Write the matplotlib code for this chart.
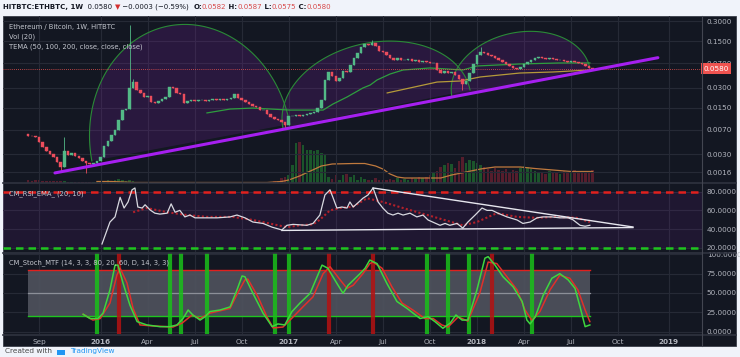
import numpy as np
import pandas as pd
import matplotlib
matplotlib.use("Agg")
import matplotlib.pyplot as plt
import matplotlib.dates as mdates
from matplotlib.lines import Line2D
from matplotlib.patches import Rectangle, Polygon
from matplotlib.ticker import FixedLocator, NullLocator

W, H = 740, 357

# ---------------- data (weekly bars, bar 0 = week of 2015-08-17) ----------------
first_week = "2015-08-17"
first_open = 0.0061
close = [
    0.0057, 0.0056, 0.0054, 0.0046, 0.0038, 0.0033, 0.0030, 0.0027, 0.0023, 0.0019,
    0.0033, 0.0029, 0.0031, 0.0028, 0.0026, 0.0024, 0.0022, 0.0021, 0.0022, 0.0024,
    0.0027, 0.0040, 0.0047, 0.0058, 0.0069, 0.0098, 0.0138, 0.0143, 0.0297, 0.0365,
    0.0277, 0.0250, 0.0217, 0.0225, 0.0183, 0.0177, 0.0189, 0.0203, 0.0217, 0.0307,
    0.0297, 0.0250, 0.0241, 0.0177, 0.0189, 0.0196, 0.0189, 0.0196, 0.0196, 0.0189,
    0.0196, 0.0203, 0.0196, 0.0203, 0.0196, 0.0203, 0.0210, 0.0241, 0.0210, 0.0196,
    0.0183, 0.0170, 0.0159, 0.0154, 0.0138, 0.0138, 0.0121, 0.0109, 0.0101, 0.0098,
    0.0091, 0.0082, 0.0112, 0.0112, 0.0116, 0.0112, 0.0116, 0.0121, 0.0125, 0.0129,
    0.0148, 0.0196, 0.0392, 0.0517, 0.0450, 0.0378, 0.0420, 0.0535, 0.0517, 0.0659,
    0.0841, 0.0999, 0.1231, 0.1365, 0.1319, 0.1413, 0.1274, 0.1071, 0.1035, 0.0933,
    0.0841, 0.0784, 0.0841, 0.0784, 0.0784, 0.0812, 0.0758, 0.0784, 0.0732, 0.0758,
    0.0732, 0.0707, 0.0707, 0.0554, 0.0499, 0.0535, 0.0499, 0.0517, 0.0466, 0.0406,
    0.0341, 0.0378, 0.0499, 0.0683, 0.0933, 0.1035, 0.0999, 0.0933, 0.0901, 0.0841,
    0.0784, 0.0732, 0.0683, 0.0637, 0.0594, 0.0574, 0.0615, 0.0683, 0.0732, 0.0784,
    0.0841, 0.0870, 0.0841, 0.0812, 0.0841, 0.0812, 0.0784, 0.0784, 0.0758, 0.0732,
    0.0758, 0.0732, 0.0707, 0.0683, 0.0637, 0.0594, 0.0580]
wick_high = {10: 0.0054, 28: 0.26, 29: 0.040, 95: 0.156, 125: 0.123}
wick_low = {9: 0.0016, 16: 0.00156, 71: 0.0075, 120: 0.0277}

# volume (relative units) and its 20-week average
volume = [
    3, 2, 3, 3, 2, 2, 1.5, 1.5, 2, 1.5,
    1.5, 1, 1, 1, 1, 1, 1, 1, 1, 1,
    1.5, 2, 2.5, 2, 3, 3.5, 3, 2, 2.5, 2,
    1, 0.8, 0.8, 0.7, 0.8, 0.7, 0.6, 0.7, 0.8, 1,
    0.8, 0.6, 0.6, 0.5, 0.5, 0.6, 0.5, 0.6, 0.5, 0.5,
    0.6, 0.5, 0.5, 0.6, 0.5, 0.6, 0.7, 0.8, 0.6, 0.7,
    0.8, 0.8, 0.9, 0.8, 1, 0.9,
    1, 1, 1.5, 2, 5, 6, 8, 18,
    40, 41, 38, 33, 33, 32, 33, 30, 28,
    6, 4, 8, 3, 8, 9, 6, 8, 3, 6, 4, 3, 3, 5, 3,
    3, 3, 4, 3, 5, 3, 4, 3, 5, 4, 6, 5, 6,
    8, 10, 12, 16, 18, 20, 19, 15, 22, 26, 20, 23, 22, 20, 18, 16, 14,
    12, 15, 13, 12, 14, 11, 13, 12, 15, 17, 16, 14, 12, 10, 11, 9, 12, 10, 11,
    9, 12, 10, 11, 13, 12, 10, 11, 12, 13]
vol_ma_bar = [19, 23, 29, 66, 70, 72, 75, 78, 81, 84, 90, 93, 96, 98, 100, 102, 104,
              114, 117, 121, 125, 129, 136, 140, 145, 150, 156]
vol_ma_val = [1.5, 1.5, 0.5, 0.5, 1.5, 3, 7, 12, 17, 19, 19.5, 19.5, 17, 14, 9, 6, 5,
              5, 8, 11, 14, 16, 16, 14.5, 13, 11.5, 11.5]
vol_top = 167

# TEMA lines
tema_green_bar = [49.4, 55.8, 62.1, 72.3, 81.5, 84.2, 88.1, 92.5, 94.5, 96.4, 100.0,
                  103.6, 111.0, 115.7, 120.1, 124.0, 135.9, 146.9, 155.2]
tema_green_val = [0.0125, 0.0143, 0.0148, 0.0138, 0.0138, 0.0170, 0.0217, 0.0297,
                  0.0329, 0.0392, 0.0482, 0.0554, 0.0594, 0.0574, 0.0554, 0.0637,
                  0.0683, 0.0707, 0.0707]
tema_gold_bar = [99.2, 113.0, 119.3, 124.9, 135.9, 145.0, 155.2]
tema_gold_val = [0.0250, 0.0365, 0.0378, 0.0435, 0.0499, 0.0517, 0.0554]

# drawings: arcs (start, apex, end) and trend line
arc_bars = [(17.6, 44.7, 72.3), (70.4, 96.4, 122.1), (117.1, 136.5, 155.2)]
arc_prices = [(0.00236, 0.293, 0.0085), (0.0074, 0.1515, 0.0277), (0.0217, 0.2143, 0.0594)]
trend_bar = [7.4, 174.0]
trend_price = [0.00156, 0.0849]
last_price = 0.0580
price_ticks = [0.3, 0.15, 0.07, 0.03, 0.015, 0.007, 0.003, 0.0016]

# RSI + EMA
rsi_bar = [20.4, 22.6, 24.0, 25.4, 26.5, 27.6, 28.7, 29.5, 30.3, 31.5, 32.3, 33.7, 35.0,
           36.4, 38.4, 39.5, 40.6, 41.9, 43.3, 44.7, 46.1, 48.3, 52.2, 55.8, 57.7, 59.9,
           62.1, 64.9, 67.4, 70.1, 71.5, 73.2, 77.0, 78.7, 80.6, 82.0, 83.4, 84.2, 85.3,
           86.7, 88.1, 88.9, 89.8, 91.1, 92.5, 93.9, 95.3, 96.7, 98.0, 99.4, 100.8, 102.2,
           103.6, 105.5, 107.4, 109.1, 110.5, 112.4, 113.8, 115.2, 116.5, 118.5, 120.1,
           121.5, 123.5, 125.4, 126.8, 128.2, 129.8, 132.3, 135.1, 136.7, 138.7, 140.6,
           142.3, 144.7, 146.9, 149.2, 150.5, 152.5, 153.9, 155.2]
rsi_val = [24, 47.5, 53, 74, 62.5, 69, 82, 84, 63.6, 62.5, 66, 60.4, 57, 56, 57, 67, 58,
           60, 53, 55, 52, 52, 52, 53, 55, 52, 47.5, 46, 42, 39, 44, 45, 44, 46, 55, 76.5,
           82, 74, 62.5, 63.6, 62.5, 69, 63.6, 68, 73, 76.5, 84, 69, 62.5, 57, 55, 57, 55,
           57, 53, 55, 49.7, 46.4, 44, 46, 44, 46, 41, 47.5, 55, 62.5, 60, 60, 57, 53,
           49.7, 46, 47.5, 52, 53, 53, 52, 52, 50, 44, 43, 44]
ema_bar = [29.0, 32.8, 38.4, 43.9, 49.4, 56.6, 62.1, 71.5, 75.1, 78.7, 80.6, 83.4, 86.2,
           89.8, 93.6, 98.0, 103.6, 113.0, 120.1, 124.0, 129.5, 135.1, 140.6, 146.1,
           151.6, 155.2]
ema_val = [58, 62.5, 58, 55, 53, 53, 49.7, 42, 44, 45, 50, 60, 62.5, 64, 73, 69, 62.5,
           52, 44, 47.5, 57, 53, 52, 53, 52, 47.5]
tri_upper_bar, tri_upper_val = [95.3, 167.1], [84, 42.2]
tri_lower_bar, tri_lower_val = [70.1, 167.1], [38.5, 41.6]

# Stochastic MTF
k_bar = [15.2, 17.1, 19.3, 20.7, 22.6, 24.0, 24.8, 26.2, 28.1, 30.1, 32.8, 36.4, 39.2,
         41.1, 42.8, 44.2, 45.5, 47.5, 48.9, 50.2, 53.0, 55.8, 57.7, 59.1, 59.9, 62.1,
         64.9, 67.4, 69.0, 70.9, 72.9, 75.1, 77.9, 81.2, 82.8, 85.3, 87.0, 88.4, 91.7,
         93.1, 94.4, 96.4, 99.1, 101.9, 104.7, 108.3, 110.5, 112.4, 114.6, 116.6, 118.2,
         119.9, 121.5, 124.0, 126.2, 127.1, 129.0, 131.2, 134.0, 136.5, 137.8, 138.7,
         140.1, 142.3, 144.7, 146.9, 149.2, 151.1, 152.5, 153.9, 155.2]
k_val = [22.5, 17, 17, 24, 54, 86, 86, 63, 34.5, 13, 8.7, 6.5, 6.5, 8.7, 17, 28, 21.6,
         15, 19.4, 26, 28, 32, 54, 72, 71, 49.6, 24, 6.5, 10, 8.7, 26, 37, 49.6, 86, 82,
         62.5, 49.6, 60, 75, 82, 92.6, 88, 62.5, 39, 30, 17, 19.4, 13, 4.4, 11, 21.6, 15,
         15, 54, 95, 97, 86, 71, 58, 39, 15, 10, 19, 47, 69, 75, 67, 56, 32, 6.5, 8.7]
d_bar = [15.2, 17.9, 19.9, 22.6, 24.5, 25.4, 27.3, 29.0, 30.9, 34.5, 40.0, 42.5, 45.3,
         47.5, 50.2, 55.8, 57.9, 59.9, 60.7, 63.5, 66.0, 67.7, 70.4, 73.2, 75.9, 78.7,
         81.5, 83.4, 86.2, 88.1, 89.8, 92.5, 94.4, 95.3, 97.8, 100.5, 103.3, 106.3,
         109.6, 111.9, 114.3, 116.0, 118.8, 121.5, 124.8, 127.1, 129.5, 132.3, 135.1,
         137.3, 139.2, 141.4, 144.2, 146.9, 149.7, 151.9, 153.9, 155.2]
d_val = [22.5, 15, 17, 37, 73, 82, 63, 30, 8.7, 7.4, 6, 11, 21.6, 17, 24, 30, 50, 67, 68,
         45, 19, 4.8, 6, 19, 32, 45, 75, 84, 67, 56, 60, 75, 88, 90, 82, 58, 37, 28, 17,
         17, 8.7, 6, 19, 13.7, 50, 90, 88, 71, 54, 28, 14.5, 26, 54, 73, 69, 54, 28, 13]
cross_up_bar = [19, 39.2, 42.2, 49.4, 68.2, 72.1, 110.2, 116, 121.8, 139.2]
cross_dn_bar = [25.1, 83.1, 95.3, 128.2]

month_ticks = ["2015-09-07", "2016-01-04", "2016-04-04", "2016-07-04", "2016-10-03",
               "2017-01-02", "2017-04-03", "2017-07-03", "2017-10-02", "2018-01-01",
               "2018-04-02", "2018-07-02", "2018-10-01", "2019-01-07"]
month_labels = ["Sep", "2016", "Apr", "Jul", "Oct", "2017", "Apr", "Jul", "Oct", "2018",
                "Apr", "Jul", "Oct", "2019"]

# ---------------- styling ----------------
BG = "#131722"
GRID = "#262a36"
TXT = "#b2b5be"
UP, DN = "#53b987", "#eb4d5c"

base = mdates.date2num(pd.Timestamp(first_week))


def bx(b):
    return base + 7 * np.asarray(b, dtype=float)


n = len(close)
opens = np.array([first_open] + close[:-1])
closes = np.array(close)
xb = bx(np.arange(n))

d16 = mdates.date2num(pd.Timestamp("2016-01-01"))
x_left, x_right = d16 - 96 / 0.517, d16 + 603 / 0.517

fig = plt.figure(figsize=(W / 100, H / 100), dpi=100, facecolor="#f0f3fa")
fig.add_artist(Rectangle((3 / W, 1 - 346 / H), 733 / W, 330 / H, transform=fig.transFigure,
                         facecolor=BG, edgecolor="#3a3e4a", lw=0.6, zorder=-10))


def pane(top, bottom):
    ax = fig.add_axes([3 / W, 1 - bottom / H, 699 / W, (bottom - top) / H])
    ax.set_facecolor("none")
    for s in ax.spines.values():
        s.set_visible(False)
    ax.set_xlim(x_left, x_right)
    ax.xaxis.set_major_locator(FixedLocator(mdates.date2num(pd.to_datetime(month_ticks))))
    ax.xaxis.set_minor_locator(NullLocator())
    ax.tick_params(axis="both", length=0, labelsize=5.2, labelcolor=TXT, pad=3.5)
    ax.tick_params(axis="x", labelbottom=False)
    ax.grid(True, color=GRID, lw=0.8)
    ax.set_axisbelow(True)
    return ax


# ---------------- price pane ----------------
ax = pane(16, 183)
vax = ax.twinx()
ax.yaxis.tick_right()
ax.set_yscale("log")
ax.set_ylim(0.0011, 0.3605)
ax.yaxis.set_major_locator(FixedLocator(price_ticks))
ax.yaxis.set_minor_locator(NullLocator())
ax.set_yticklabels([f"{t:.4f}" for t in price_ticks])
ax.tick_params(axis="y", length=0, labelsize=5.2, labelcolor=TXT, pad=3.5,
               labelleft=False, labelright=True)

vax.set_ylim(0, vol_top)
vax.set_xlim(x_left, x_right)
vax.axis("off")
vcol = np.where(closes >= opens, "#1f6b2f", "#6e2030")
vax.bar(xb, volume, width=4.9, color=vcol, alpha=0.75, zorder=1)
vax.plot(bx(vol_ma_bar), vol_ma_val, color="#c07a3e", lw=0.9, zorder=2)
ax.set_zorder(vax.get_zorder() + 1)
ax.patch.set_visible(False)

# arcs (half-ellipses drawn in screen space like the drawing tool)
T = ax.transData
for bars, prices in zip(arc_bars, arc_prices):
    p0 = T.transform((bx(bars[0]), prices[0]))
    pa = T.transform((bx(bars[1]), prices[1]))
    p1 = T.transform((bx(bars[2]), prices[2]))
    c = (p0 + p1) / 2
    u = (p1 - p0) / np.linalg.norm(p1 - p0)
    nrm = np.array([-u[1], u[0]])
    a = np.linalg.norm(p1 - p0) / 2
    b = np.dot(pa - c, nrm)
    t = np.linspace(np.pi, 0, 120)
    pts = c + np.outer(a * np.cos(t), u) + np.outer(b * np.sin(t), nrm)
    dpts = T.inverted().transform(pts)
    ax.add_patch(Polygon(dpts, closed=True, facecolor="#7b1fa2", alpha=0.22,
                         edgecolor="none", zorder=1))
    ax.plot(dpts[:, 0], dpts[:, 1], color="#2a8a37", lw=0.8, zorder=2)

ax.plot(bx(tema_green_bar), tema_green_val, color="#2e9e3e", lw=0.9, zorder=3)
ax.plot(bx(tema_gold_bar), tema_gold_val, color="#b59a3a", lw=0.9, zorder=3)

# candles
hi = np.maximum(opens, closes)
lo = np.minimum(opens, closes)
for k, v in wick_high.items():
    hi[k] = v
for k, v in wick_low.items():
    lo[k] = v
ccol = np.where(closes >= opens, UP, DN)
ax.vlines(xb, lo, hi, colors=ccol, lw=0.6, zorder=4)
ax.bar(xb, np.abs(closes - opens), bottom=np.minimum(opens, closes), width=4.9,
       color=ccol, edgecolor=ccol, lw=0.3, zorder=5)

ax.plot(bx(trend_bar), trend_price, color="#a61ff0", lw=2.2, zorder=6,
        solid_capstyle="round")
ax.axhline(last_price, color="#ef5350", lw=0.6, ls=(0, (1, 1.5)), zorder=3)
ax.text(1.002, last_price, f"{last_price:.4f}", transform=ax.get_yaxis_transform(),
        ha="left", va="center", fontsize=5.2, color="white", clip_on=False, zorder=10,
        bbox=dict(boxstyle="square,pad=0.35", fc="#ef5350", ec="none"))

# ---------------- RSI pane ----------------
ax2 = pane(184, 252)
ax2.yaxis.tick_right()
ax2.set_ylim(15.4, 88.25)
ax2.yaxis.set_major_locator(FixedLocator([80, 60, 40, 20]))
ax2.set_yticklabels(["80.0000", "60.0000", "40.0000", "20.0000"])
ax2.axhspan(20, 80, color="#7b1fa2", alpha=0.12, lw=0)
ax2.axhline(80, color="#e0201e", lw=1.8, ls=(0, (3, 2)))
ax2.axhline(20, color="#1fc41f", lw=1.8, ls=(0, (3, 2)))
ax2.plot(bx(ema_bar), ema_val, color="#b3202a", lw=1.5, ls=(0, (1, 1.1)))
ax2.plot(bx(rsi_bar), rsi_val, color="#d8d9e0", lw=0.9)
ax2.plot(bx(tri_upper_bar), tri_upper_val, color="#e6e6ee", lw=1.0)
ax2.plot(bx(tri_lower_bar), tri_lower_val, color="#e6e6ee", lw=1.0)

# ---------------- Stochastic pane ----------------
ax3 = pane(253, 334)
ax3.yaxis.tick_right()
ax3.set_ylim(-3.0, 101.7)
ax3.yaxis.set_major_locator(FixedLocator([100, 75, 50, 25, 0]))
ax3.set_yticklabels(["100.0000", "75.0000", "50.0000", "25.0000", "0.0000"])
ax3.fill_between(bx([0, 155.2]), 20, 80, color="#50535e", alpha=0.9, lw=0)
ax3.plot(bx([0, 155.2]), [80, 80], color="#e0201e", lw=1.0)
ax3.plot(bx([0, 155.2]), [20, 20], color="#1fc41f", lw=1.0)
ax3.plot(bx([0, 155.2]), [50, 50], color="#8c8f98", lw=0.9)
for b in cross_up_bar:
    ax3.axvline(bx(b), color="#19c019", lw=3.0, alpha=0.85)
for b in cross_dn_bar:
    ax3.axvline(bx(b), color="#b51212", lw=3.0, alpha=0.85)
ax3.plot(bx(d_bar), d_val, color="#e0302a", lw=1.1)
ax3.plot(bx(k_bar), k_val, color="#3ed63e", lw=1.1)
ax3.tick_params(axis="x", labelbottom=True, pad=3.5)
ax3.set_xticklabels(month_labels)
for lab in ax3.get_xticklabels():
    if lab.get_text().isdigit():
        lab.set_fontweight("bold")

# separators
for y in (183.5, 252.5, 334.5):
    fig.add_artist(Line2D([3 / W, 736 / W], [1 - y / H] * 2, color="#2f3340", lw=1.2))
fig.add_artist(Line2D([702 / W] * 2, [1 - 16 / H, 1 - 346 / H], color="#434651", lw=0.8))

# ---------------- texts ----------------
def fx(x):
    return x / W


def fy(y):
    return 1 - y / H


for y, s in ((26.5, "Ethereum / Bitcoin, 1W, HITBTC"), (36.5, "Vol (20)"),
             (46.5, "TEMA (50, 100, 200, close, close, close)"),
             (194, "CM_RSI_EMA_ (20, 10)"),
             (262.5, "CM_Stoch_MTF (14, 3, 3, 80, 20, 60, D, 14, 3, 3)")):
    fig.text(fx(9), fy(y), s, fontsize=4.9, color="#c3c6ce", va="center", ha="left")

renderer = fig.canvas.get_renderer()
header = [("HITBTC:ETHBTC, 1W", "#131722", "bold"), ("  0.0580 ", "#131722", "normal"),
          ("\u25bc", "#d32f2f", "normal"), (" \u22120.0003 (\u22120.59%)  ", "#131722", "normal"),
          ("O:", "#131722", "bold"), ("0.0582", "#d84a4a", "normal"),
          (" H:", "#131722", "bold"), ("0.0587", "#d84a4a", "normal"),
          (" L:", "#131722", "bold"), ("0.0575", "#d84a4a", "normal"),
          (" C:", "#131722", "bold"), ("0.0580", "#d84a4a", "normal")]
xpos = 3
for s, col, wt in header:
    t = fig.text(fx(xpos), fy(7), s, fontsize=5.0, color=col, fontweight=wt,
                 va="center", ha="left")
    xpos += t.get_window_extent(renderer=renderer).width

# footer
fig.text(fx(5), fy(348), "Created with", fontsize=5.3, color="#4a4a4a", va="top", ha="left")
fig.text(fx(70), fy(348), "TradingView", fontsize=5.3, color="#2196f3", va="top", ha="left")
fig.add_artist(Rectangle((fx(57), fy(355)), 8 / W, 5 / H, transform=fig.transFigure,
                         facecolor="#2196f3", edgecolor="none"))

fig.savefig("out.png", dpi=100, facecolor=fig.get_facecolor())
